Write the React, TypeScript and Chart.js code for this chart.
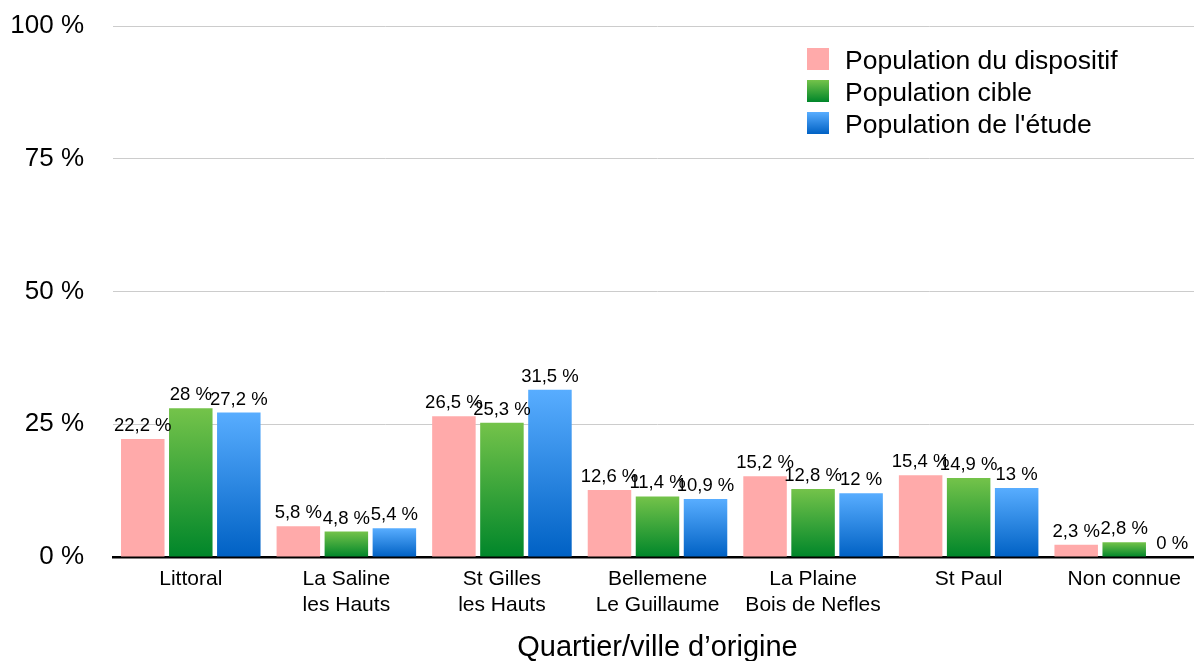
import React, { useEffect, useRef } from "react";
import { Chart, registerables } from "chart.js";

Chart.register(...registerables);

const categories: string[][] = [
  ["Littoral"],
  ["La Saline", "les Hauts"],
  ["St Gilles", "les Hauts"],
  ["Bellemene", "Le Guillaume"],
  ["La Plaine", "Bois de Nefles"],
  ["St Paul"],
  ["Non connue"],
];
const seriesNames = ["Population du dispositif", "Population cible", "Population de l'étude"];
const dispositif = [22.2, 5.8, 26.5, 12.6, 15.2, 15.4, 2.3];
const cible = [28, 4.8, 25.3, 11.4, 12.8, 14.9, 2.8];
const etude = [27.2, 5.4, 31.5, 10.9, 12, 13, 0];
const yTickValues = [0, 25, 50, 75, 100];
const axisTitle = "Quartier/ville d’origine";

const FONT = "'Liberation Sans', Arial, Helvetica, sans-serif";
const gradStops: [string, string][] = [
  ["#FFAAAA", "#FFAAAA"],
  ["#74C34A", "#00862A"],
  ["#58ADFF", "#0061C4"],
];

const fmt = (v: number) => `${String(v).replace(".", ",")} %`;

function makeGrad(ctx: CanvasRenderingContext2D, top: number, bottom: number, i: number) {
  const [c1, c2] = gradStops[i];
  if (bottom - top < 0.5) return c2;
  const g = ctx.createLinearGradient(0, top, 0, bottom);
  g.addColorStop(0, c1);
  g.addColorStop(1, c2);
  return g;
}

const valueLabels = {
  id: "valueLabels",
  afterDatasetsDraw(chart: any) {
    const ctx = chart.ctx;
    ctx.save();
    ctx.font = `18.5px ${FONT}`;
    ctx.fillStyle = "#000";
    ctx.textAlign = "center";
    ctx.textBaseline = "alphabetic";
    chart.data.datasets.forEach((ds: any, di: number) => {
      const meta = chart.getDatasetMeta(di);
      meta.data.forEach((el: any, i: number) => {
        ctx.fillText(fmt(ds.data[i]), el.x, el.y - 8);
      });
    });
    ctx.restore();
  },
};

const innerLegend = {
  id: "innerLegend",
  afterDraw(chart: any) {
    const ctx = chart.ctx;
    const { left, top } = chart.chartArea;
    const x = left + 694;
    const y0 = top + 22;
    ctx.save();
    ctx.font = `26.5px ${FONT}`;
    ctx.fillStyle = "#000";
    ctx.textAlign = "left";
    ctx.textBaseline = "alphabetic";
    seriesNames.forEach((name, i) => {
      const y = y0 + i * 32;
      ctx.fillStyle = makeGrad(ctx, y, y + 22, i);
      ctx.fillRect(x, y, 22, 22);
      ctx.fillStyle = "#000";
      ctx.fillText(name, x + 38, y + 21);
    });
    ctx.restore();
  },
};

export default function App() {
  const ref = useRef<HTMLCanvasElement | null>(null);

  useEffect(() => {
    document.body.style.margin = "0";
    const canvas = ref.current;
    if (!canvas) return;
    const series = [dispositif, cible, etude];
    const chart = new Chart(canvas, {
      type: "bar",
      data: {
        labels: categories,
        datasets: series.map((data, i) => ({
          label: seriesNames[i],
          data,
          categoryPercentage: 0.926,
          barPercentage: 0.906,
          borderWidth: 0,
          backgroundColor: (c: any) => {
            const ch = c.chart;
            if (!ch.chartArea || c.raw === undefined) return gradStops[i][1];
            const ys = ch.scales.y;
            const top = ys.getPixelForValue(c.raw);
            const bottom = ys.getPixelForValue(0);
            return makeGrad(ch.ctx, top, bottom, i);
          },
        })),
      },
      options: {
        responsive: false,
        animation: false,
        layout: { padding: { top: 26, right: 0, bottom: 0, left: 0 } },
        plugins: {
          legend: { display: false },
          tooltip: { enabled: false },
        },
        scales: {
          x: {
            grid: { display: false, drawTicks: false },
            border: { display: true, color: "#000", width: 2.5 },
            ticks: {
              color: "#000",
              padding: 9,
              maxRotation: 0,
              font: { family: FONT, size: 21, lineHeight: "26px" } as any,
            },
            title: {
              display: true,
              text: axisTitle,
              color: "#000",
              padding: 0,
              font: { family: FONT, size: 29, lineHeight: "26px" } as any,
            },
            afterFit: (s: any) => {
              s.height = 104;
            },
          },
          y: {
            min: 0,
            max: 100,
            afterBuildTicks: (s: any) => {
              s.ticks = yTickValues.map((v) => ({ value: v }));
            },
            grid: {
              color: "#cccccc",
              lineWidth: 1,
              drawTicks: true,
              tickLength: 29,
              tickColor: "rgba(0,0,0,0)",
            },
            border: { display: false },
            ticks: {
              color: "#000",
              padding: 0,
              font: { family: FONT, size: 26 },
              callback: (v: any) => `${v} %`,
            },
            afterFit: (s: any) => {
              s.width = 113;
            },
          },
        },
      },
      plugins: [valueLabels, innerLegend],
    });
    return () => chart.destroy();
  }, []);

  return (
    <div style={{ width: 1194, height: 661, overflow: "hidden", background: "#fff" }}>
      <canvas ref={ref} width={1202} height={661} style={{ display: "block" }} />
    </div>
  );
}
